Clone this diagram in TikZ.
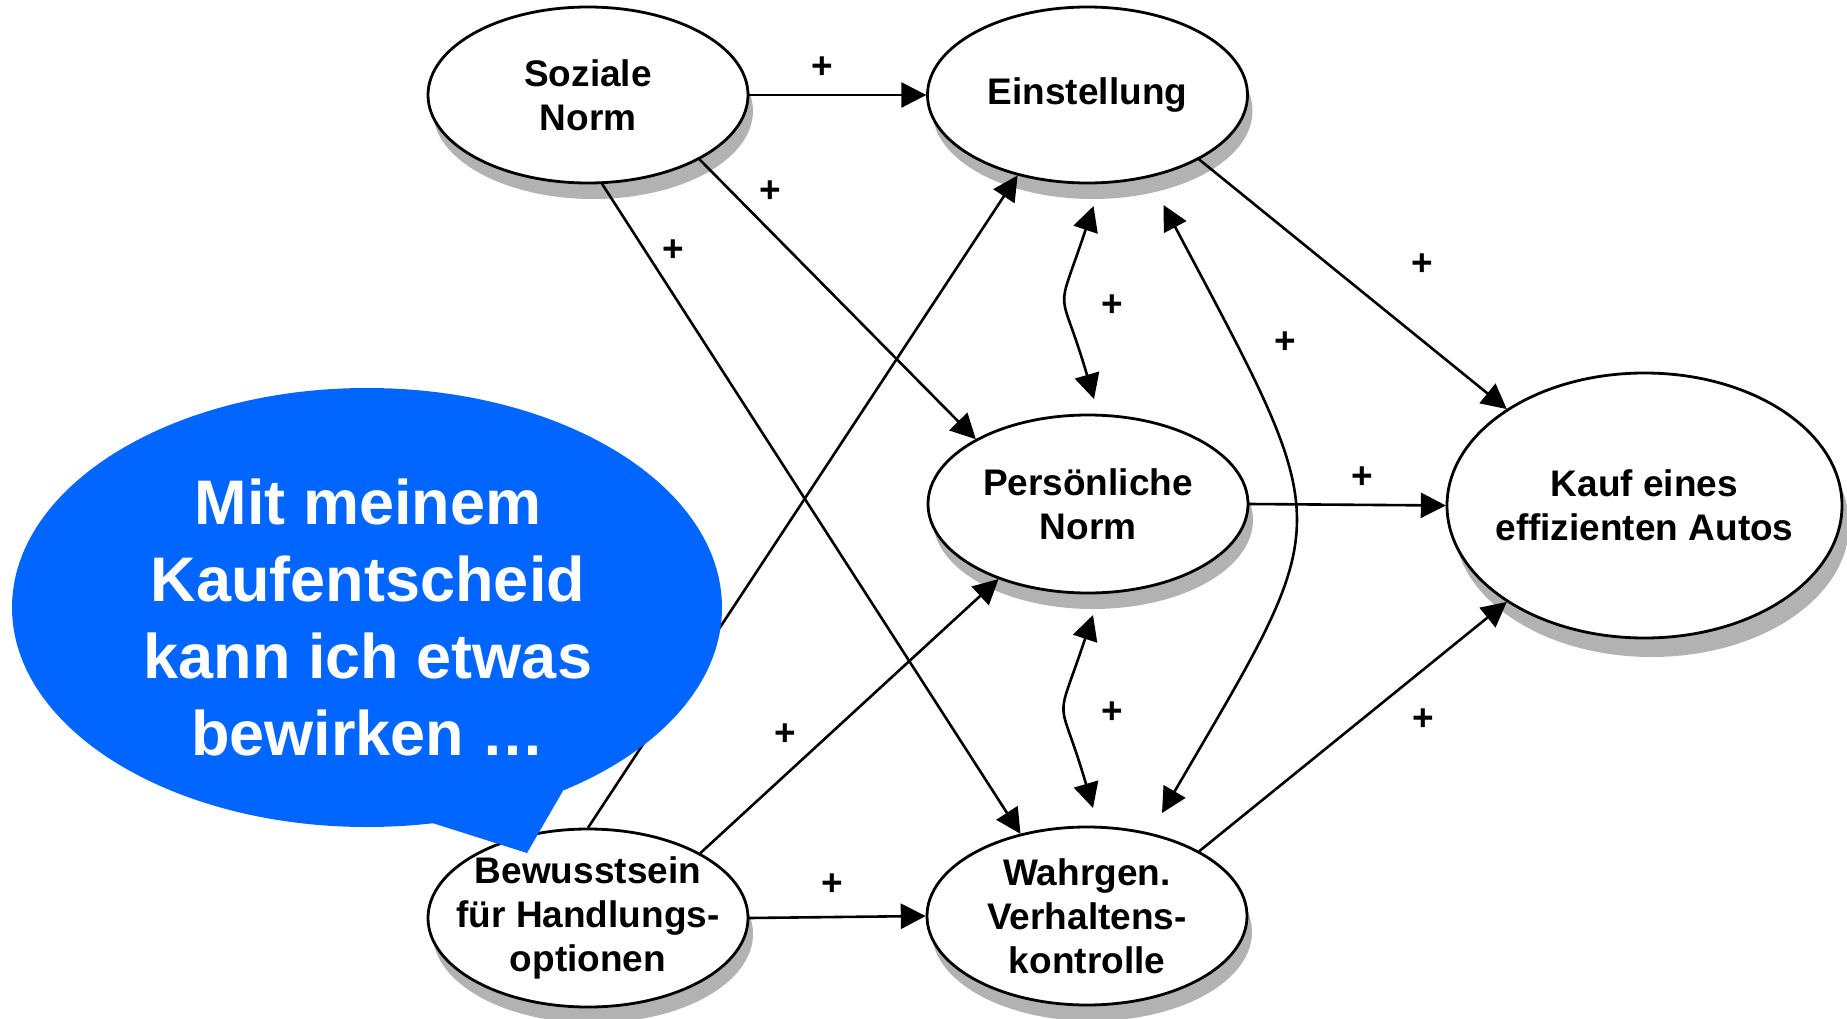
\documentclass[tikz,border=0pt]{standalone}
\usepackage{fontspec}
\setmainfont{Liberation Sans}
\usetikzlibrary{shapes.geometric,arrows.meta,shadows,calc}
\definecolor{bubbleblue}{RGB}{0,102,255}
\definecolor{shadowgray}{RGB}{178,178,178}
\begin{document}
\begin{tikzpicture}[x=1pt,y=-1pt,
  basic/.style={ellipse, draw=black, line width=2.8pt, fill=white, inner sep=-60pt, outer sep=1.2pt, align=center,
     font=\bfseries\fontsize{37}{44}\selectfont},
  ell/.style={basic, general shadow={shadow xshift=5pt, shadow yshift=-16pt, fill=shadowgray}},
  bigell/.style={basic, general shadow={shadow xshift=7pt, shadow yshift=-19pt, fill=shadowgray}},
  conn/.style={line width=2.6pt, -{Triangle[length=25pt,width=25pt]}},
  biconn/.style={line width=2.6pt, {Triangle[length=25pt,width=25pt]}-{Triangle[length=25pt,width=25pt]}},
  plus/.style={font=\bfseries\fontsize{37}{44}\selectfont, inner sep=0pt}
]
\useasboundingbox (0,0) rectangle (1847,1019);

% ellipses
\node[ell, minimum width=320pt, minimum height=176pt] (soz) at (588,95) {Soziale\\Norm};
\node[ell, minimum width=320pt, minimum height=176pt] (ein) at (1087.5,95) {Einstellung};
\node[ell, minimum width=320pt, minimum height=178pt] (per) at (1088,504) {Persönliche\\Norm};
\node[ell, minimum width=320pt, minimum height=178pt] (wah) at (1087,916) {Wahrgen.\\Verhaltens-\\kontrolle};
\node[ell, minimum width=320pt, minimum height=178pt] (bew) at (588,918) {Bewusstsein\\für Handlungs-\\optionen};
\node[bigell, minimum width=395pt, minimum height=265pt] (kauf) at (1644.5,505.5) {Kauf eines\\effizienten Autos};

% straight connectors
\draw[conn] (soz.east) -- (ein.west);
\draw[conn] (soz.-30) -- (per.150);
\draw[conn] (soz.-81) -- (wah.129);
\draw[conn] (bew.90) -- (ein.-131);
\draw[conn] (bew.30) -- (per.-140.7);
\draw[conn] (bew.east) -- (wah.west);
\draw[conn] (ein.-30.5) -- (kauf.145.6);
\draw[conn] (per.east) -- (kauf.west);
\draw[conn] (wah.30.3) -- (kauf.-145.3);

% curved bidirectional connectors
\draw[biconn] ($(ein)+(6,111)$) .. controls +(-39,117) and +(-35,-120) .. ($(per)+(6,-105)$);
\draw[biconn] ($(per)+(5,111)$) .. controls +(-39,117) and +(-35,-120) .. ($(wah)+(6,-108)$);
\draw[biconn] ($(ein)+(76,110)$) .. controls +(175,330) and +(175,-300) .. ($(wah)+(75,-103)$);

% plus labels
\node[plus] (p1) at (822,68) {+};
\node[plus] (p2) at (770,192) {+};
\node[plus] (p3) at (673,251) {+};
\node[plus] (p4) at (1112,306) {+};
\node[plus] (p5) at (1285,343) {+};
\node[plus] (p6) at (1422,265) {+};
\node[plus] (p7) at (1362,478) {+};
\node[plus] (p8) at (1112,713) {+};
\node[plus] (p9) at (785,735) {+};
\node[plus] (p10) at (832,885) {+};
\node[plus] (p11) at (1423,720) {+};

% speech bubble
\node[ellipse, fill=bubbleblue, minimum width=710pt, minimum height=439pt, inner sep=0pt, outer sep=0pt] (bubble) at (367,607.5) {};
\coordinate (tailtip) at (527,853);
\fill[bubbleblue] (bubble.-73.2) -- (tailtip) -- (bubble.-43.9) -- cycle;
\node[text=white, align=center, font=\bfseries\fontsize{63}{77}\selectfont, inner sep=0pt] (btext) at (368,617) {Mit meinem\\Kaufentscheid\\kann ich etwas\\bewirken …};
\end{tikzpicture}
\end{document}
